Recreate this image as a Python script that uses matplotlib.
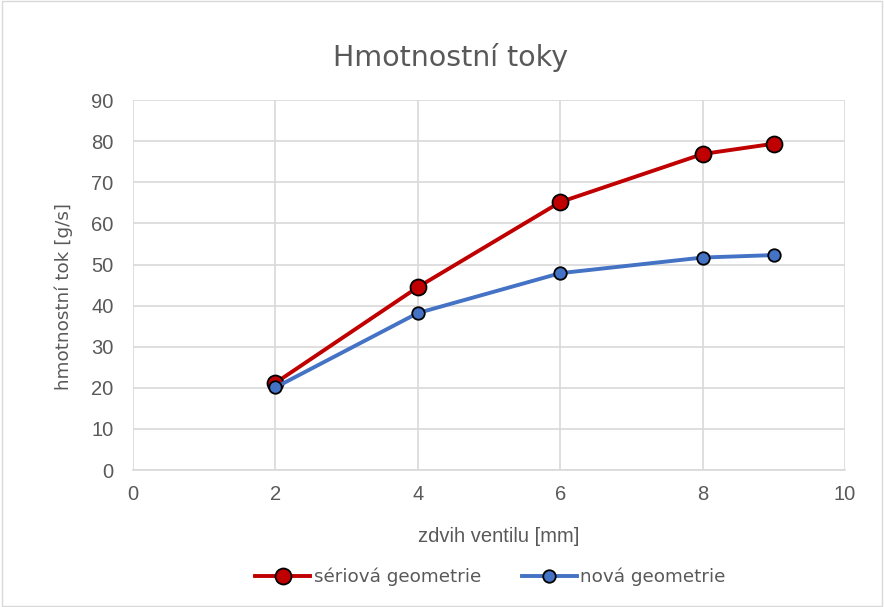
import matplotlib
matplotlib.use("Agg")
import matplotlib.pyplot as plt
from matplotlib.patches import Rectangle

lift_mm = [2, 4, 6, 8, 9]
serial_flow = [21.2, 44.5, 65.2, 76.9, 79.4]
new_flow = [20.1, 38.2, 47.9, 51.7, 52.3]
x_ticks = [0, 2, 4, 6, 8, 10]
y_ticks = [0, 10, 20, 30, 40, 50, 60, 70, 80, 90]

round_font = ['DejaVu Sans']
plain_font = ['Liberation Sans', 'DejaVu Sans']
plt.rcParams['font.family'] = plain_font
text_col = '#595959'
grid_col = '#d9d9d9'

fig = plt.figure(figsize=(8.84, 6.07), dpi=100)
fig.patches.append(Rectangle((0.002, 0.002), 0.996, 0.996, transform=fig.transFigure,
                             fill=False, edgecolor='#d9d9d9', linewidth=1))
ax = fig.add_axes([0.1505, 0.2257, 0.8055, 0.6093])

ax.plot(lift_mm, serial_flow, color='#c00000', linewidth=2.8, marker='o', markersize=11.5,
        markerfacecolor='#c00000', markeredgecolor='black', markeredgewidth=1.3,
        label='sériová geometrie', zorder=3)
ax.plot(lift_mm, new_flow, color='#4472c4', linewidth=2.8, marker='o', markersize=9,
        markerfacecolor='#4472c4', markeredgecolor='black', markeredgewidth=1.3,
        label='nová geometrie', zorder=4)

ax.set_xlim(0, 10)
ax.set_ylim(0, 90)
ax.set_xticks(x_ticks)
ax.set_yticks(y_ticks)
ax.grid(True, color=grid_col, linewidth=1.2)
ax.set_axisbelow(True)
for s in ['top', 'right', 'left']:
    ax.spines[s].set_visible(False)
ax.spines['bottom'].set_color(grid_col)
ax.spines['bottom'].set_linewidth(1.2)
ax.tick_params(length=0, labelsize=14.5, labelcolor=text_col)
ax.tick_params(axis='x', pad=11)
ax.tick_params(axis='y', pad=14)

fig.text(451 / 884, 1 - 57 / 607, 'Hmotnostní toky', fontsize=20.5, color=text_col,
         ha='center', va='center', family=round_font)
fig.text(499 / 884, 1 - 536 / 607, 'zdvih ventilu [mm]', fontsize=14.5, color=text_col,
         ha='center', va='center')
fig.text(64 / 884, 1 - 296 / 607, 'hmotnostní tok [g/s]', fontsize=13.2, color=text_col,
         ha='center', va='center', rotation=90, family=round_font)

leg = fig.legend(loc='center', bbox_to_anchor=(0.555, 1 - 577 / 607), ncol=2, frameon=False,
                 prop={'family': round_font, 'size': 13.2}, handlelength=3.0,
                 columnspacing=2.2, handletextpad=0.2)
for t in leg.get_texts():
    t.set_color(text_col)

fig.savefig('out.png', dpi=100)
